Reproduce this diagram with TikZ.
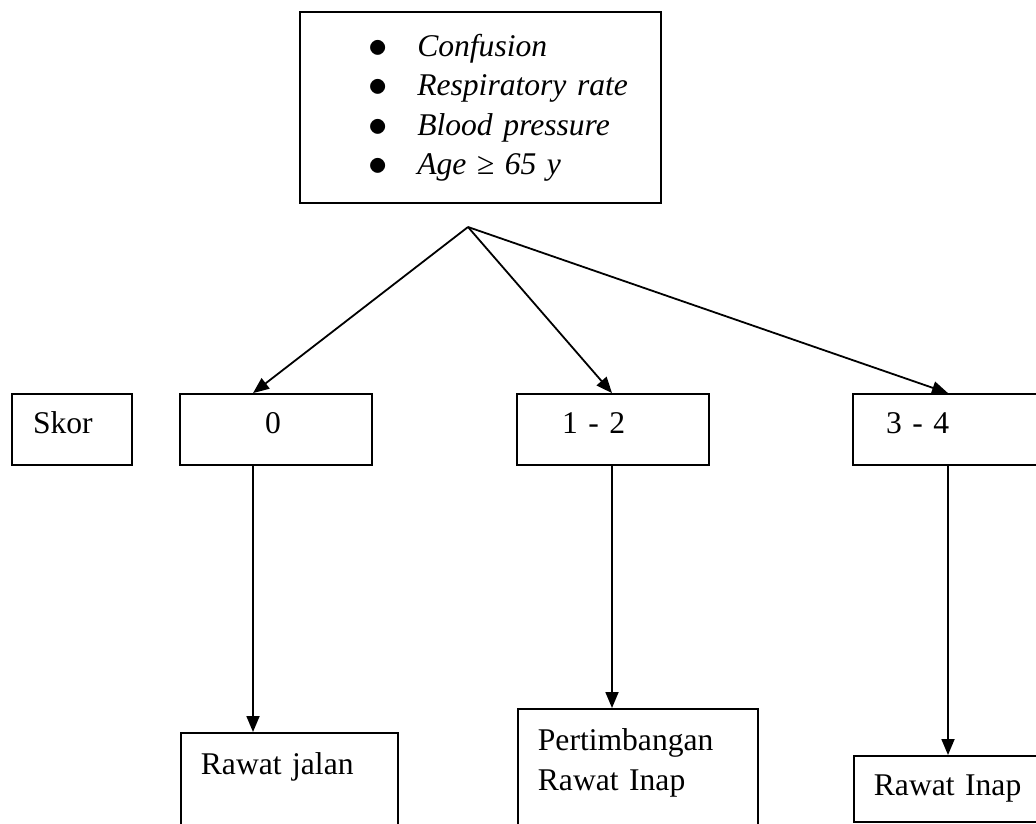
\documentclass[tikz,border=0pt]{standalone}
\usepackage{fontspec}
\setmainfont{Liberation Serif}
\usetikzlibrary{positioning,arrows.meta}
\newcommand{\itembul}{\raisebox{-0.04em}{\scalebox{1.55}{$\bullet$}}}

\begin{document}
\begin{tikzpicture}[x=1pt,y=-1pt,>={Triangle[length=16pt,width=13pt]},line width=1.8pt,
    every node/.style={font=\fontsize{31.6}{39.5}\selectfont},
    scorebox/.style={draw,inner xsep=0pt,minimum height=71pt,align=left,text height=22pt,text depth=14pt},
    actionbox/.style={draw,anchor=north west,inner xsep=20pt,inner ysep=20pt,align=left}]
    \clip (0,0) rectangle (1036,823);

    \node[draw,inner xsep=0pt,text width=361pt,minimum height=191pt,align=left] (crit) at (480.5,107.5) {%
      \hspace*{68pt}\begin{tabular}{@{}l@{\hspace{30pt}}l@{}}
        \itembul & \textit{Confusion}\\
        \itembul & \textit{Respiratory rate}\\
        \itembul & \textit{Blood pressure}\\
        \itembul & \textit{Age ≥ 65 y}
      \end{tabular}};

    \node[scorebox,text width=120pt] (skor) at (72,429.5)  {\hspace*{21pt}Skor};
    \node[scorebox,text width=192pt] (s0)   at (276,429.5) {\hspace*{85pt}0};
    \node[scorebox,text width=192pt] (s12)  at (613,429.5) {\hspace*{45pt}1 - 2};
    \node[scorebox,text width=192pt] (s34)  at (949,429.5) {\hspace*{33pt}3 - 4};

    \node[actionbox,text width=177pt,text depth=80pt] (jalan) at (180,732) {Rawat jalan};
    \node[actionbox,text width=200pt,text depth=80pt] (pert)  at (517,708) {Pertimbangan\\Rawat Inap};
    \node[actionbox,text width=200pt,inner ysep=18pt,minimum height=66pt] (inap) at (853,755) {Rawat Inap};

    \coordinate (apex) at (468,227);
    \coordinate (col0) at (253,0);
    \coordinate (col1) at (612,0);
    \coordinate (col2) at (948,0);

    \draw[->] (apex) -- (col0 |- s0.north);
    \draw[->] (apex) -- (col1 |- s12.north);
    \draw[->] (apex) -- (col2 |- s34.north);

    \draw[->] (col0 |- s0.south)  -- (col0 |- jalan.north);
    \draw[->] (col1 |- s12.south) -- (col1 |- pert.north);
    \draw[->] (col2 |- s34.south) -- (col2 |- inap.north);
  \end{tikzpicture}
\end{document}
